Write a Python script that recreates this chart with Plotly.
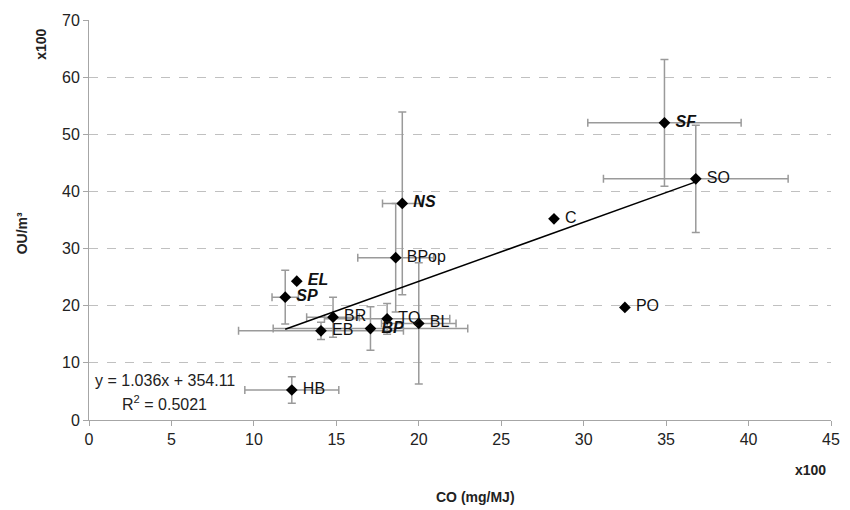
import plotly.graph_objects as go

# ---- data (values x100) ----
names = ["HB", "EB", "BR", "BP", "TQ", "BL", "SP", "EL", "BPop", "NS", "C", "PO", "SO", "SF"]
co = [12.3, 14.07, 14.8, 17.07, 18.08, 20.0, 11.9, 12.6, 18.6, 19.0, 28.2, 32.5, 36.8, 34.9]
ou = [5.25, 15.6, 18.0, 16.0, 17.7, 16.9, 21.5, 24.3, 28.4, 37.9, 35.2, 19.7, 42.2, 52.0]
co_err = [2.85, 5.0, 1.6, 5.9, 3.8, 2.26, 0.8, 0.0, 2.3, 1.2, 0.0, 0.0, 5.6, 4.65]
ou_err = [2.3, 1.5, 3.5, 3.8, 2.7, 10.6, 4.7, 0.0, 9.5, 16.0, 0.0, 0.0, 9.4, 11.1]
emphasis = [False, False, False, True, False, False, True, True, False, True, False, False, False, True]

slope = 1.036
intercept = 354.11  # raw units
r2 = 0.5021
scale = 100

x_ticks = [0, 5, 10, 15, 20, 25, 30, 35, 40, 45]
y_ticks = [0, 10, 20, 30, 40, 50, 60, 70]

FONT = "Liberation Sans, Arial, sans-serif"
ERR_COLOR = "#9a9a9a"

labels = ["\u00a0" + (f"<b><i>{n}</i></b>" if e else n) for n, e in zip(names, emphasis)]

fig = go.Figure()

# error bars (drawn beneath)
fig.add_trace(go.Scatter(
    x=co, y=ou, mode="markers",
    marker=dict(size=1, color="rgba(0,0,0,0)"),
    error_x=dict(type="data", array=co_err, color=ERR_COLOR, thickness=1.5, width=4),
    error_y=dict(type="data", array=ou_err, color=ERR_COLOR, thickness=1.5, width=4),
    showlegend=False, hoverinfo="skip",
))

# trend line
x0, x1 = min(co), max(co)
fig.add_trace(go.Scatter(
    x=[x0, x1],
    y=[slope * x0 + intercept / scale, slope * x1 + intercept / scale],
    mode="lines", line=dict(color="black", width=1.5),
    showlegend=False, hoverinfo="skip",
))

# markers + labels
fig.add_trace(go.Scatter(
    x=co, y=ou, mode="markers+text",
    marker=dict(symbol="diamond", size=9, color="black"),
    text=labels, textposition="middle right",
    textfont=dict(family=FONT, size=16, color="#111"),
    showlegend=False,
))

axis_font = dict(family=FONT, size=16, color="#222")
title_font = dict(family=FONT, size=14, color="#222")

fig.update_layout(
    width=850, height=510,
    margin=dict(l=89, r=10, t=20, b=90),
    paper_bgcolor="white", plot_bgcolor="white",
    font=dict(family=FONT),
    xaxis=dict(
        range=[0, 45], tickvals=x_ticks, ticktext=[str(v) for v in x_ticks],
        showgrid=False, zeroline=False, showline=True, linecolor="#a6a6a6", linewidth=1,
        ticks="outside", ticklen=5, tickcolor="#a6a6a6", tickfont=axis_font,
    ),
    yaxis=dict(
        range=[0, 70], tickvals=y_ticks, ticktext=[str(v) for v in y_ticks],
        showgrid=True, gridcolor="#c0c0c0", griddash="dash", gridwidth=1,
        zeroline=False, showline=True, linecolor="#a6a6a6", linewidth=1,
        ticks="outside", ticklen=5, tickcolor="#a6a6a6", tickfont=axis_font,
    ),
    annotations=[
        dict(text="<b>CO (mg/MJ)</b>", xref="paper", yref="paper", x=0.521, y=-0.193,
             xanchor="center", yanchor="middle", showarrow=False, font=title_font),
        dict(text="<b>x100</b>", xref="paper", yref="paper", x=0.973, y=-0.125,
             xanchor="center", yanchor="middle", showarrow=False, font=title_font),
        dict(text="<b>OU/m³</b>", xref="paper", yref="paper", x=-0.091, y=0.468,
             xanchor="center", yanchor="middle", showarrow=False, textangle=-90,
             font=title_font),
        dict(text="<b>x100</b>", xref="paper", yref="paper", x=-0.065, y=0.94,
             xanchor="center", yanchor="middle", showarrow=False, textangle=-90,
             font=title_font),
        dict(text=f"y = {slope}x + {intercept}", xref="x", yref="y", x=4.6, y=7.0,
             xanchor="center", yanchor="middle", showarrow=False,
             font=dict(family=FONT, size=16, color="#222")),
        dict(text=f"R<sup>2</sup> = {r2}", xref="x", yref="y", x=4.55, y=3.05,
             xanchor="center", yanchor="middle", showarrow=False,
             font=dict(family=FONT, size=16, color="#222")),
    ],
)

fig.write_html("out.html",
               config={"displayModeBar": False},
               post_script="document.body.style.margin='0';document.body.style.overflow='hidden';")
